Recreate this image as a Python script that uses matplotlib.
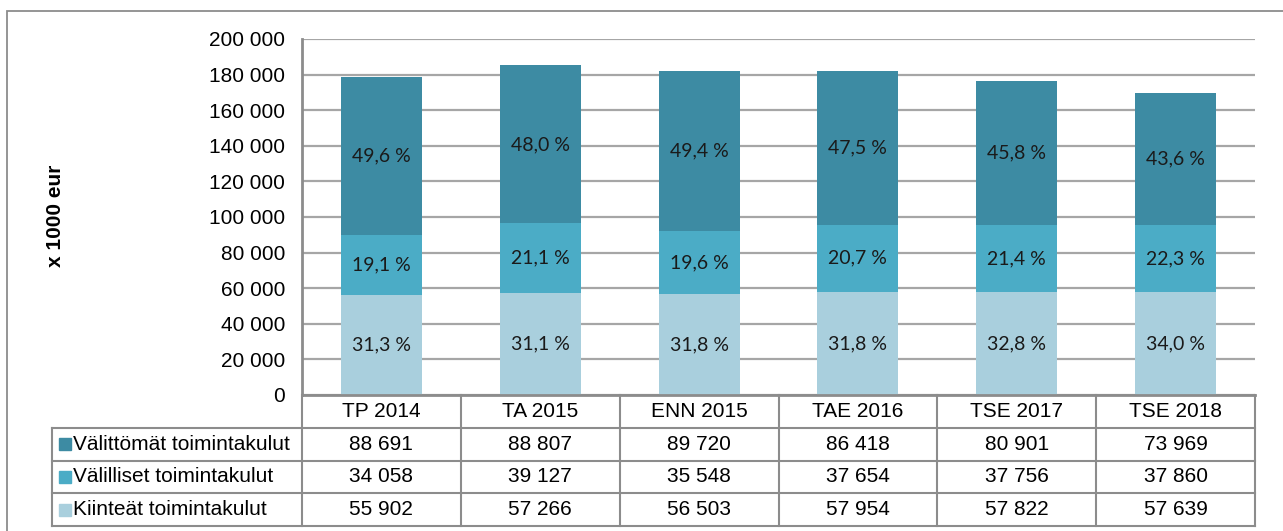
import matplotlib
matplotlib.use("Agg")
import matplotlib.pyplot as plt
from matplotlib.patches import Rectangle
import numpy as np

categories = ["TP 2014", "TA 2015", "ENN 2015", "TAE 2016", "TSE 2017", "TSE 2018"]
series_names = ["Välittömät toimintakulut", "Välilliset toimintakulut", "Kiinteät toimintakulut"]
valittomat = [88691, 88807, 89720, 86418, 80901, 73969]
valilliset = [34058, 39127, 35548, 37654, 37756, 37860]
kiinteat = [55902, 57266, 56503, 57954, 57822, 57639]
pct_valittomat = ["49,6 %", "48,0 %", "49,4 %", "47,5 %", "45,8 %", "43,6 %"]
pct_valilliset = ["19,1 %", "21,1 %", "19,6 %", "20,7 %", "21,4 %", "22,3 %"]
pct_kiinteat = ["31,3 %", "31,1 %", "31,8 %", "31,8 %", "32,8 %", "34,0 %"]

c_dark = "#3D8BA3"
c_mid = "#4BACC6"
c_light = "#A9CFDD"
line_gray = "#8C8C8C"
grid_gray = "#A6A6A6"

plt.rcParams["font.family"] = ["Liberation Sans", "DejaVu Sans"]

W, H = 1283, 531
fig = plt.figure(figsize=(W / 100, H / 100), dpi=100)

# outer frame, runs off the right and bottom edge
fig.patches.append(Rectangle((7 / W, -0.1), 1.2, (H - 11) / H + 0.1, transform=fig.transFigure,
                             fill=False, edgecolor=line_gray, lw=1.3))

ax = fig.add_axes([302 / W, (H - 395) / H, (1255 - 302) / W, (395 - 39) / H])
x = np.arange(len(categories)) + 0.5
w = 0.51
b1 = np.array(kiinteat)
b2 = b1 + np.array(valilliset)
ax.bar(x, kiinteat, width=w, color=c_light, zorder=2)
ax.bar(x, valilliset, width=w, bottom=b1, color=c_mid, zorder=2)
ax.bar(x, valittomat, width=w, bottom=b2, color=c_dark, zorder=2)

lab_font = dict(family=["Lato", "DejaVu Sans"], fontsize=14, color="#1a1a1a",
                ha="center", va="center", zorder=3)
for i in range(len(categories)):
    ax.text(x[i], kiinteat[i] / 2, pct_kiinteat[i], **lab_font)
    ax.text(x[i], b1[i] + valilliset[i] / 2, pct_valilliset[i], **lab_font)
    ax.text(x[i], b2[i] + valittomat[i] / 2, pct_valittomat[i], **lab_font)

ax.set_xlim(0, len(categories))
ax.set_ylim(0, 200000)
ax.set_yticks(np.arange(0, 200001, 20000))
ax.set_yticklabels([f"{v:,}".replace(",", " ") for v in range(0, 200001, 20000)], fontsize=15)
ax.set_xticks([])
ax.tick_params(axis="y", length=0, pad=12)
ax.yaxis.grid(True, color=grid_gray, lw=1.6)
ax.set_axisbelow(True)
for s in ["top", "right"]:
    ax.spines[s].set_visible(False)
for s in ["left", "bottom"]:
    ax.spines[s].set_color(line_gray)
    ax.spines[s].set_linewidth(2)
ax.set_ylabel("x 1000 eur", fontsize=15, fontweight="bold", labelpad=0)
ax.yaxis.set_label_coords(65 / W, (H - 216) / H, transform=fig.transFigure)

# data table below the chart
lab_w = (302 - 52) / ((1255 - 302) / len(categories))
tx = fig.add_axes([52 / W, (H - 526) / H, (1255 - 52) / W, (526 - 395) / H])
tx.set_xlim(-lab_w, len(categories))
tx.set_ylim(4, 0)
tx.axis("off")

for r in range(1, 5):
    tx.plot([-lab_w, len(categories)], [r, r], color=line_gray, lw=1.5, clip_on=False)
for c in range(len(categories) + 1):
    tx.plot([c, c], [0, 4], color=line_gray, lw=1.5, clip_on=False)
tx.plot([-lab_w, -lab_w], [1, 4], color=line_gray, lw=1.5, clip_on=False)

for i, cat in enumerate(categories):
    tx.text(i + 0.5, 0.5, cat, fontsize=15, ha="center", va="center")

rows = [valittomat, valilliset, kiinteat]
row_colors = [c_dark, c_mid, c_light]
px = (1255 - 302) / len(categories)
for r, (name, vals, col) in enumerate(zip(series_names, rows, row_colors)):
    y = r + 1.5
    tx.plot([-lab_w + 13 / px], [y], marker="s", ms=8.6, color=col, clip_on=False)
    tx.text(-lab_w + 21 / px, y, name, fontsize=15, ha="left", va="center")
    for i, v in enumerate(vals):
        tx.text(i + 0.5, y, f"{v:,}".replace(",", " "), fontsize=15, ha="center", va="center")

fig.savefig("out.png", dpi=100)
